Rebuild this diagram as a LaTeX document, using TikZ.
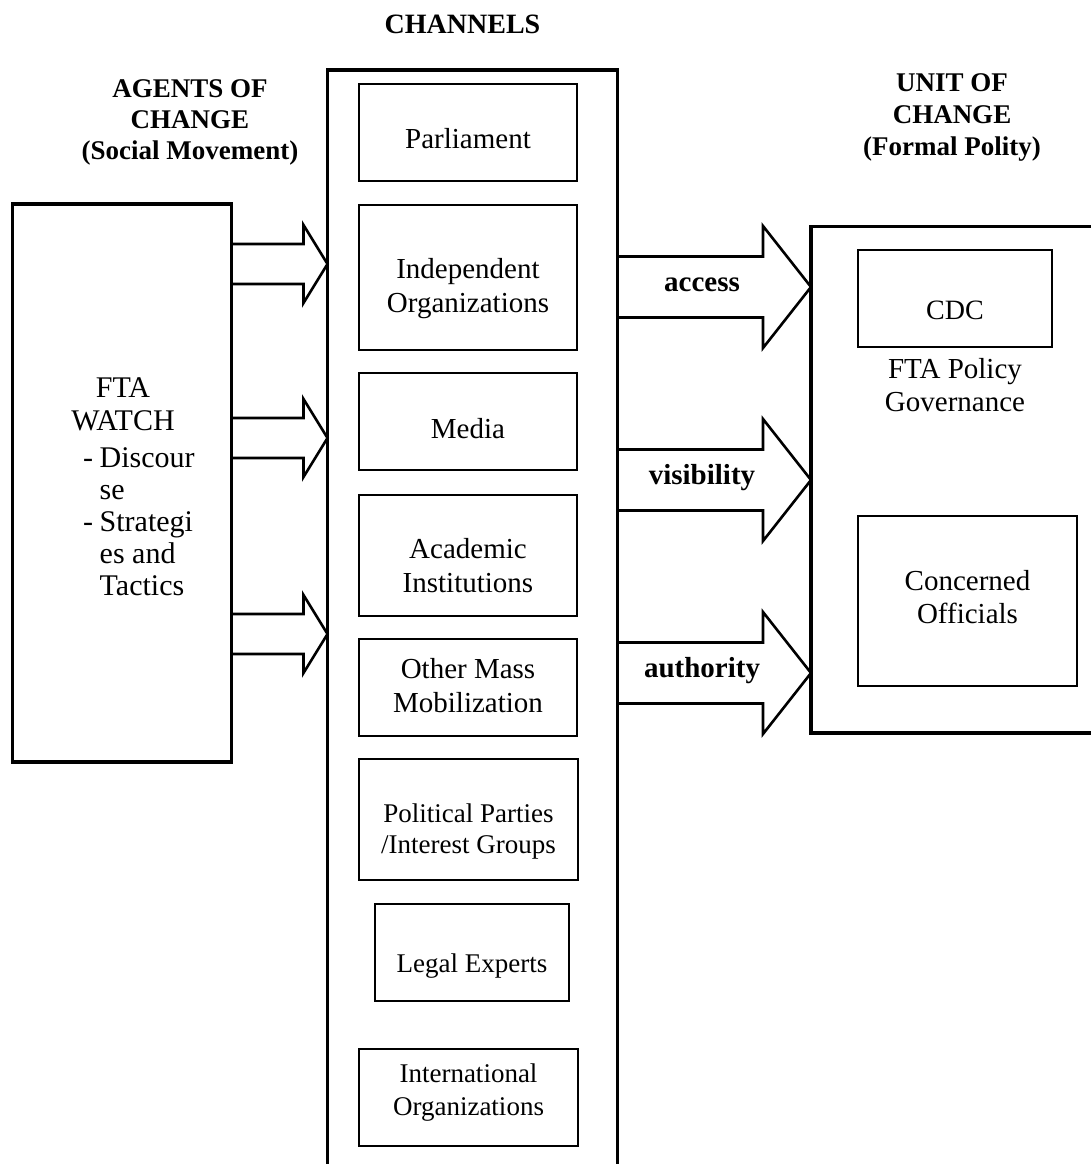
\documentclass[tikz,border=0pt]{standalone}
\usepackage{fontspec}
\setmainfont{Liberation Serif}
\usetikzlibrary{calc}
\newcommand\fsz[2]{\fontsize{#1}{#2}\selectfont}
\newcommand\mtl[1]{\begin{tabular}[t]{@{}c@{}}#1\end{tabular}}
\newcommand\mtll[1]{\begin{tabular}[t]{@{}l@{}}#1\end{tabular}}
% block arrow from node #1 (east side) to node #2 (west side), centre y #3,
% shaft half-width #4, head half-width #5, head length #6
\newcommand\fatarrow[6]{%
  \draw[fat] let \p1=(#1.east), \p2=(#2.west), \p3=(0,#3) in
    (\x1,\y3+#4pt) -- (\x2-#6pt,\y3+#4pt) -- (\x2-#6pt,\y3+#5pt) -- (\x2,\y3)
    -- (\x2-#6pt,\y3-#5pt) -- (\x2-#6pt,\y3-#4pt) -- (\x1,\y3-#4pt);}
\begin{document}
\begin{tikzpicture}[x=1pt,y=-1pt,
  outer/.style={draw, line width=3.3pt, inner sep=0pt, outer sep=0pt},
  cbox/.style={draw, line width=2.2pt, inner sep=0pt, outer sep=0pt, font=\fsz{29}{34}},
  fat/.style={line width=2.6pt, line join=miter},
  hdr/.style={font=\bfseries\fsz{27}{31}, inner sep=0pt, anchor=base},
  lbl/.style={font=\bfseries\fsz{29}{34}, inner sep=0pt, anchor=base},
  plain/.style={inner sep=0pt, font=\fsz{29}{33}}]
\useasboundingbox (0,0) rectangle (1090,1164);

% headers
\node[hdr] (hagents) at (190,97) {\mtl{AGENTS OF\\CHANGE\\(Social Movement)}};
\node[hdr, font=\bfseries\fsz{28}{31}] (hchan) at (462.5,34) {CHANNELS};
\node[hdr, font=\bfseries\fsz{27}{32}] (hunit) at (952,92) {\mtl{UNIT OF\\CHANGE\\(Formal Polity)}};

% agents of change
\node[outer, minimum width=219pt, minimum height=558pt] (fta) at (122,483) {};
\node[plain, anchor=base, font=\fsz{30}{33}] (ftaname) at (123,397) {\mtl{FTA\\WATCH}};
\node[plain, anchor=base west, font=\fsz{30}{32}] (ftalist) at (83,467)
  {\mtll{\makebox[16.5pt][l]{-}Discour\\\hspace*{16.5pt}se\\\makebox[16.5pt][l]{-}Strategi\\\hspace*{16.5pt}es and\\\hspace*{16.5pt}Tactics}};

% channels (open at the bottom: the frame runs off the page)
\node[outer, minimum width=290pt, minimum height=1130pt] (chan) at (472.5,635) {};
\node[cbox, minimum width=218pt, minimum height=97pt, text height=31pt, text depth=0pt] (parl) at (468,132.5) {Parliament};
\node[cbox, minimum width=218pt, minimum height=145pt, text height=1pt, text depth=0pt] (indep) at (468,277.5) {\mtl{Independent\\Organizations}};
\node[cbox, minimum width=218pt, minimum height=97pt, text height=33pt, text depth=0pt] (media) at (468,421.5) {Media};
\node[cbox, minimum width=218pt, minimum height=121pt, text height=5pt, text depth=0pt] (acad) at (468,555.5) {\mtl{Academic\\Institutions}};
\node[cbox, minimum width=218pt, minimum height=97pt, text height=0pt, text depth=19pt] (mass) at (468,687.5) {\mtl{Other Mass\\Mobilization}};
\node[cbox, font=\fsz{27}{31}, minimum width=219pt, minimum height=121pt, text height=5pt, text depth=0pt] (polit) at (468.5,819.5) {\mtl{Political Parties\\/Interest Groups}};
\node[cbox, font=\fsz{27}{31}, minimum width=194pt, minimum height=97pt, text height=39pt, text depth=0pt] (legal) at (472,952.5) {Legal Experts};
\node[cbox, font=\fsz{27}{33}, minimum width=219pt, minimum height=97pt, text height=0pt, text depth=31pt] (intl) at (468.5,1097.5) {\mtl{International\\Organizations}};

% unit of change (open at the right: the frame runs off the page)
\node[outer, minimum width=289pt, minimum height=506.5pt] (unit) at (955.5,479.75) {};
\node[cbox, font=\fsz{28}{32}, minimum width=194pt, minimum height=97pt, text height=42pt, text depth=0pt] (cdc) at (955,298.5) {CDC};
\node[plain, anchor=base] (policy) at (955,378) {\mtl{FTA Policy\\Governance}};
\node[cbox, font=\fsz{29}{33}, minimum width=219pt, minimum height=170pt, text height=0pt, text depth=22pt] (conc) at (967.5,601) {\mtl{Concerned\\Officials}};

% block arrows: agents -> channels
\fatarrow{fta}{chan}{264}{20}{39}{24}
\fatarrow{fta}{chan}{438}{20}{39}{24}
\fatarrow{fta}{chan}{634}{20}{39}{24}

% block arrows: channels -> unit
\fatarrow{chan}{unit}{287}{30.5}{61}{48}
\fatarrow{chan}{unit}{480}{30.5}{61}{48}
\fatarrow{chan}{unit}{673}{30.5}{61}{48}
\node[lbl] (laccess) at (702,291) {access};
\node[lbl] (lvis) at (702,484) {visibility};
\node[lbl] (lauth) at (702,677) {authority};
\end{tikzpicture}
\end{document}
